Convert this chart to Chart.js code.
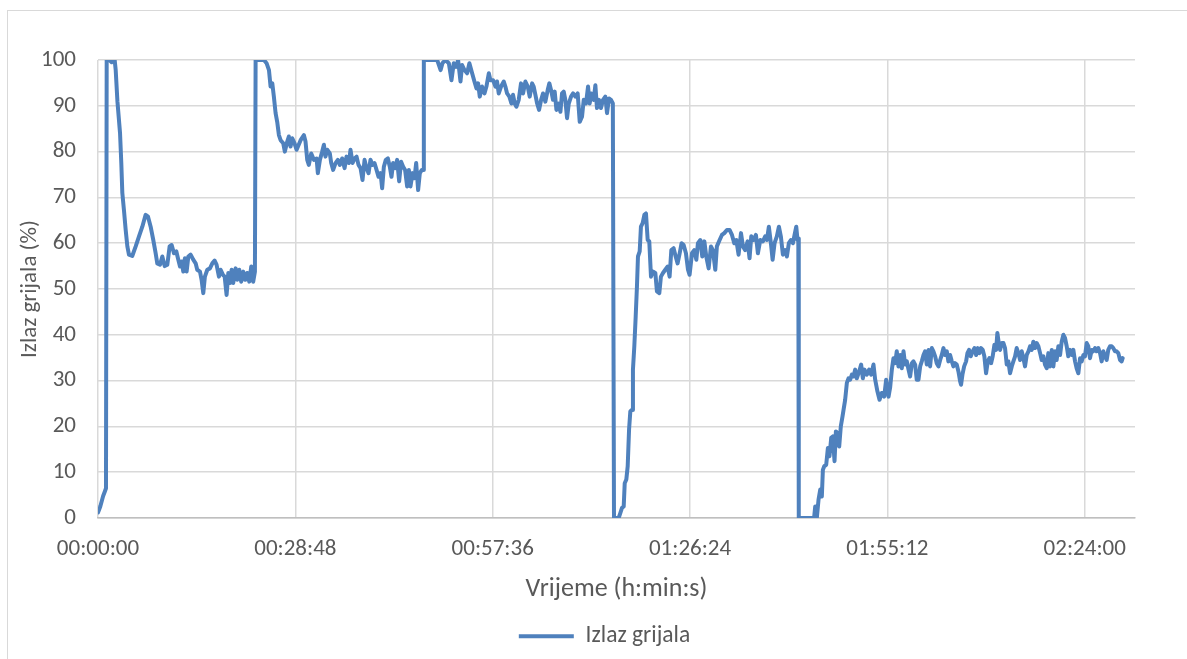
<!DOCTYPE html>
<html>
<head>
<meta charset="utf-8">
<title>Izlaz grijala</title>
<script src="https://cdn.jsdelivr.net/npm/chart.js@4.4.1/dist/chart.umd.min.js"></script>
<style>
  html, body { margin: 0; padding: 0; background: #fff; overflow: hidden; }
  #wrap { position: relative; width: 1187px; height: 659px; }
  #frame {
    position: absolute; left: 7px; top: 10px; width: 1200px; height: 700px;
    border-top: 1px solid #d9d9d9; border-left: 1px solid #d9d9d9;
  }
  #heaterChart { position: absolute; left: 0; top: 0; }
</style>
</head>
<body>
<div id="wrap">
  <div id="frame"></div>
  <canvas id="heaterChart" width="1187" height="659"></canvas>
</div>
<script>
// time since start (s) and heater output (%)
const timeSec = [
  0, 20, 45, 60, 70, 76, 100, 120, 146, 155,
  170, 193, 204, 213, 228, 242, 257, 271, 300, 330,
  359, 388, 417, 438, 461, 484, 505, 519, 543, 563,
  584, 607, 627, 645, 665, 686, 700, 718, 732, 747,
  761, 776, 791, 811, 834, 855, 869, 893, 907, 922,
  936, 957, 980, 1001, 1021, 1038, 1059, 1074, 1094, 1109,
  1126, 1141, 1155, 1170, 1184, 1205, 1219, 1237, 1254, 1272,
  1289, 1307, 1324, 1342, 1359, 1374, 1380, 1420, 1453, 1476,
  1497, 1511, 1526, 1540, 1555, 1569, 1584, 1599, 1622, 1636,
  1657, 1671, 1686, 1701, 1721, 1739, 1774, 1803, 1817, 1832,
  1846, 1867, 1890, 1914, 1925, 1943, 1963, 1978, 1992, 2007,
  2030, 2042, 2059, 2080, 2100, 2118, 2138, 2159, 2176, 2197,
  2211, 2229, 2246, 2264, 2281, 2299, 2316, 2334, 2351, 2369,
  2386, 2404, 2421, 2439, 2456, 2474, 2488, 2503, 2520, 2538,
  2555, 2570, 2584, 2602, 2619, 2637, 2654, 2672, 2689, 2707,
  2722, 2736, 2754, 2771, 2786, 2803, 2818, 2835, 2847, 2853,
  2900, 2970, 3000, 3016, 3042, 3072, 3095, 3115, 3136, 3153,
  3174, 3188, 3209, 3232, 3252, 3276, 3296, 3314, 3328, 3343,
  3363, 3384, 3401, 3422, 3436, 3459, 3480, 3494, 3509, 3529,
  3553, 3567, 3582, 3602, 3620, 3634, 3649, 3664, 3684, 3704,
  3722, 3742, 3763, 3780, 3801, 3815, 3830, 3845, 3862, 3880,
  3897, 3917, 3938, 3952, 3970, 3984, 3999, 4014, 4034, 4049,
  4063, 4078, 4092, 4107, 4122, 4142, 4160, 4180, 4200, 4218,
  4238, 4253, 4273, 4291, 4305, 4320, 4340, 4355, 4369, 4387,
  4404, 4422, 4442, 4457, 4474, 4492, 4508, 4518, 4540, 4559,
  4574, 4588, 4603, 4612, 4626, 4638, 4650, 4661, 4676, 4684,
  4696, 4708, 4719, 4728, 4743, 4754, 4769, 4784, 4798, 4813,
  4827, 4842, 4859, 4880, 4894, 4915, 4929, 4947, 4967, 4988,
  5005, 5020, 5040, 5058, 5075, 5093, 5110, 5128, 5148, 5166,
  5180, 5201, 5221, 5239, 5253, 5274, 5291, 5309, 5326, 5347,
  5367, 5384, 5405, 5419, 5443, 5463, 5484, 5507, 5530, 5551,
  5571, 5589, 5609, 5630, 5647, 5667, 5688, 5705, 5720, 5740,
  5761, 5778, 5799, 5822, 5842, 5857, 5874, 5892, 5907, 5924,
  5944, 5962, 5979, 5997, 6017, 6032, 6049, 6067, 6085, 6099,
  6114, 6125, 6132, 6136, 6200, 6270, 6280, 6294, 6309, 6324,
  6338, 6347, 6359, 6376, 6391, 6405, 6420, 6434, 6449, 6461,
  6475, 6490, 6504, 6519, 6528, 6542, 6557, 6572, 6586, 6601,
  6615, 6630, 6644, 6665, 6682, 6697, 6711, 6732, 6752, 6770,
  6790, 6805, 6825, 6843, 6863, 6884, 6901, 6922, 6936, 6951,
  6965, 6980, 6994, 7009, 7024, 7038, 7053, 7067, 7082, 7097,
  7111, 7126, 7140, 7155, 7169, 7184, 7199, 7213, 7228, 7242,
  7257, 7272, 7286, 7301, 7315, 7330, 7344, 7359, 7374, 7388,
  7403, 7417, 7432, 7446, 7461, 7476, 7490, 7505, 7519, 7534,
  7549, 7557, 7569, 7584, 7601, 7613, 7627, 7642, 7659, 7674,
  7689, 7703, 7718, 7732, 7747, 7761, 7776, 7791, 7805, 7820,
  7834, 7849, 7864, 7875, 7887, 7899, 7913, 7928, 7942, 7957,
  7971, 7986, 8001, 8015, 8030, 8044, 8059, 8074, 8088, 8103,
  8117, 8132, 8147, 8161, 8176, 8190, 8205, 8219, 8234, 8249,
  8263, 8278, 8292, 8307, 8321, 8336, 8351, 8365, 8380, 8394,
  8409, 8424, 8438, 8453, 8467, 8482, 8496, 8511, 8526, 8540,
  8555, 8569, 8584, 8599, 8613, 8628, 8642, 8657, 8671, 8686,
  8701, 8715, 8730, 8744, 8759, 8774, 8788, 8803, 8817, 8832,
  8846, 8861, 8876, 8890, 8905, 8919, 8934, 8949, 8963, 8972
];

const heaterPct = [
  1.2, 2.5, 4.8, 5.8, 6.5, 100, 100, 99.5, 100, 97.8,
  91, 84, 77.5, 71, 67, 63, 59.3, 57.5, 57.2, 59.3,
  61.5, 63.6, 66.2, 65.8, 63.6, 60.7, 57.8, 55.6, 55.3, 57.1,
  55, 55.3, 59.3, 59.6, 57.8, 58.2, 56.7, 54.9, 56, 53.8,
  56.7, 53.8, 57.1, 57.5, 56.4, 55.6, 54.2, 53.8, 52, 49.1,
  52.7, 54.2, 54.5, 55.6, 56.2, 55.3, 52.7, 54.2, 53.1, 52.7,
  48.7, 53.5, 51.3, 54.2, 51.3, 54.5, 52, 54.2, 51.6, 53.8,
  52, 53.5, 51.6, 54.9, 51.6, 53.8, 100, 100, 100, 99.3,
  97.8, 94.2, 94.9, 92, 88.4, 86.5, 83.6, 82.5, 81.8, 80,
  82.2, 83.3, 81.1, 82.9, 81.8, 80.4, 82.5, 83.6, 82.2, 78.2,
  77.1, 79.6, 78.2, 78.5, 75.3, 78.2, 80, 81.5, 78.9, 80.4,
  79.6, 77.5, 76, 77.5, 78.2, 77.1, 78.5, 76.4, 78.9, 77.5,
  80.4, 77.5, 78.5, 78.9, 77.1, 76.4, 73.8, 78.2, 76.4, 75.3,
  78.2, 77.1, 77.5, 76, 74.5, 75.3, 72, 76.7, 78.2, 78.5,
  76.7, 74.5, 77.5, 76.4, 78.2, 73.5, 77.8, 76.7, 76, 72.4,
  76, 72.4, 75.3, 74.2, 77.5, 71.6, 75.3, 76, 76, 100,
  100, 100, 97.8, 99.3, 100, 99.3, 95.6, 99.3, 98.5, 100,
  95.3, 98.9, 97.8, 97.1, 99.3, 97.1, 95.3, 93.8, 94.9, 92,
  94.2, 92.7, 94.2, 97.1, 95.6, 95.6, 94.2, 95.3, 92.7, 94.2,
  95.3, 94.2, 92.7, 92, 90.5, 92.4, 90.5, 89.8, 91.3, 94.9,
  92.7, 95.3, 94.2, 92, 94.9, 94.2, 92.4, 90.5, 89.1, 91.3,
  92.7, 90.9, 93.5, 94.9, 93.1, 91.3, 93.1, 89.1, 90.5, 88.7,
  92.7, 93.1, 91.3, 87.3, 90.5, 92, 92.7, 92, 92.7, 86.5,
  87.6, 91.3, 90.5, 94.2, 90.5, 92.7, 91.3, 94.5, 89.5, 91.3,
  89.5, 91.3, 92, 88.4, 91.6, 91.3, 90.5, 0, 0, 0,
  1.1, 2.2, 2.5, 7.6, 8.4, 11.3, 19.3, 23.3, 23.6, 32.4,
  37.5, 44, 50.5, 57.1, 58.2, 63.6, 64.4, 66.2, 66.5, 60.7,
  60.4, 52.7, 53.8, 53.5, 49.5, 49.1, 52.7, 53.5, 54.2, 54.9,
  52.7, 58.5, 58.9, 57.1, 55.6, 57.8, 60, 59.6, 57.8, 54.2,
  53.1, 57.8, 58.5, 56.4, 60, 60.7, 57.1, 60.4, 57.1, 54.5,
  59.3, 58.5, 54.2, 59.3, 60.7, 61.8, 62.2, 62.9, 62.9, 61.8,
  60, 60.7, 57.5, 62.2, 59.3, 58.5, 60.4, 56.7, 61.5, 60.7,
  61.8, 57.8, 60.7, 60.4, 61.5, 60.7, 63.6, 60, 56.4, 60,
  61.5, 63.6, 61.5, 57.5, 58.5, 57.1, 60, 60.7, 60, 61.8,
  63.6, 60.7, 61, 0, 0, 0, 2.5, 0, 4, 6.2,
  4.7, 10.5, 11.3, 11.6, 15.3, 13.5, 17.5, 17.8, 12.4, 18.9,
  18.5, 15.6, 20, 22.2, 23.6, 25.8, 29.5, 30.5, 30.2, 31.3,
  30.9, 32.4, 30.5, 32, 33.5, 30.5, 32.4, 31.3, 32.4, 31.3,
  33.5, 30.2, 27.6, 25.8, 27.3, 26.5, 30.2, 26.5, 28.5, 32.4,
  34.9, 33.8, 36.4, 33.1, 35.6, 32.7, 36.4, 33.5, 34.2, 32.4,
  30.9, 33.8, 34.2, 33.5, 30.2, 30.2, 33.1, 34.2, 35.6, 36.4,
  33.5, 36.7, 33.1, 37.1, 36.4, 35.3, 33.8, 33.1, 34.5, 35.6,
  37.1, 35.6, 36.4, 34.2, 35.6, 34.2, 33.1, 33.8, 33.5, 32,
  29.8, 29.1, 31.3, 33.1, 34.2, 36, 36.7, 35.3, 36.4, 37.1,
  35.6, 37.1, 36, 37.1, 36.7, 35.3, 31.6, 34.2, 34.9, 33.8,
  35.3, 37.8, 36.7, 40.4, 38.2, 36.7, 38.2, 38.2, 37.1, 33.5,
  34.2, 31.6, 33.1, 34.2, 35.3, 37.1, 36, 34.5, 36.4, 34.9,
  33.1, 35.6, 36.4, 37.5, 36.7, 38.5, 37.1, 38.2, 37.5, 36,
  34.5, 35.3, 33.5, 32.7, 36, 33.1, 36.7, 33.1, 36.4, 34.5,
  37.5, 35.6, 38.5, 40, 39.3, 37.5, 35.3, 36.7, 35.6, 36.7,
  34.2, 32.7, 31.6, 34.9, 34.2, 35.6, 35.3, 38.2, 37.5, 34.9,
  36.7, 36.4, 37.1, 36.4, 37.1, 36, 34.2, 36.4, 35.3, 34.5,
  36.7, 37.5, 37.5, 37.1, 36.4, 36.4, 36, 34.5, 34.2, 34.9
];

// x axis ticks every 28:48 (1728 s)
const tickSeconds = [0, 1728, 3456, 5184, 6912, 8640];
const tickLabels = ["00:00:00", "00:28:48", "00:57:36", "01:26:24", "01:55:12", "02:24:00"];
const axisMaxSec = 9080;

const textColor = "#595959";
const gridColor = "#d9d9d9";
const lineColor = "#4f81bd";

Chart.defaults.font.family = "Carlito, Lato, 'Open Sans', sans-serif";
Chart.defaults.color = textColor;

const ctx = document.getElementById("heaterChart").getContext("2d");
new Chart(ctx, {
  type: "line",
  data: {
    datasets: [{
      label: "Izlaz grijala",
      data: timeSec.map((t, i) => ({ x: t, y: heaterPct[i] })),
      borderColor: lineColor,
      backgroundColor: lineColor,
      borderWidth: 4,
      borderJoinStyle: "round",
      borderCapStyle: "round",
      pointRadius: 0,
      pointHoverRadius: 0,
      tension: 0,
      fill: false
    }]
  },
  options: {
    responsive: false,
    animation: false,
    events: [],
    layout: { padding: { left: 22, right: 0, top: 60, bottom: 1 } },
    plugins: {
      tooltip: { enabled: false },
      legend: {
        position: "bottom",
        labels: {
          usePointStyle: true,
          pointStyle: "line",
          pointStyleWidth: 55,
          padding: 10,
          color: textColor,
          font: { size: 23.5 }
        }
      }
    },
    scales: {
      x: {
        type: "linear",
        min: 0,
        max: axisMaxSec,
        afterBuildTicks: scale => {
          scale.ticks = tickSeconds.map(v => ({ value: v }));
        },
        afterFit: scale => { scale.height = 96.5; },
        ticks: {
          callback: (value, index) => tickLabels[index],
          autoSkip: false,
          maxRotation: 0,
          padding: 17,
          color: textColor,
          font: { size: 23 }
        },
        grid: { color: gridColor, lineWidth: 1.5, drawTicks: false },
        border: { color: "#bfbfbf", width: 1.5 },
        title: {
          display: true,
          text: "Vrijeme (h:min:s)",
          color: textColor,
          font: { size: 26 },
          padding: { top: 0, bottom: 9 }
        }
      },
      y: {
        min: 0,
        max: 100,
        afterFit: scale => { scale.width = 76; },
        ticks: {
          stepSize: 10,
          padding: 22,
          color: textColor,
          font: { size: 23 }
        },
        grid: { color: gridColor, lineWidth: 1.5, drawTicks: false },
        border: { display: false },
        title: {
          display: true,
          text: "Izlaz grijala (%)",
          color: textColor,
          font: { size: 23 },
          padding: { top: -6, bottom: 0 }
        }
      },
      // empty right-hand spacer so the plot stops where the original does
      spacer: {
        type: "linear",
        position: "right",
        display: true,
        afterFit: scale => { scale.width = 52; },
        ticks: { display: false },
        grid: { drawOnChartArea: false, drawTicks: false },
        border: { display: false }
      }
    }
  }
});
</script>
</body>
</html>
